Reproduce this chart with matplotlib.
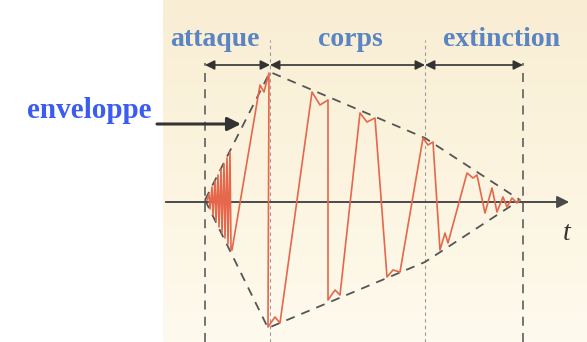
import matplotlib
matplotlib.use('Agg')
import matplotlib.pyplot as plt
import numpy as np
from matplotlib.colors import LinearSegmentedColormap

WAVE = '#e5674c'; DARK = '#4a4a4a'; LBL = '#5b84c2'; BLUE = '#3a5cf0'

# time (t) and amplitude (a), origin = start of the attack
wave_t = [2, 4, 5, 7, 8, 10, 11, 13, 14, 16, 17, 19, 20, 22, 23, 25, 26, 27,
          55, 59, 64, 63, 70, 75, 107, 115, 123, 123, 130, 135, 155, 162, 170,
          182, 188, 195, 218, 223, 228, 235, 240, 243, 262, 268, 272, 280, 287,
          292, 298, 302, 307, 312, 315]
wave_a = [0, 6, -9, 13, -15, 19, -21, 25, -27, 31, -33, 36, -38, 42, -44, 48, -50, -50,
          115, 108, 127, -127, -117, -123, 108, 95, 100, -100, -90, -95, 87, 78, 82,
          -77, -70, -72, 62, 55, 58, -50, -33, -43, 27, 22, 25, -13, 12,
          -12, 3, -7, 2, -3, 0]

env_up_t = [0, 65, 220, 315]
env_up_a = [0, 128, 62, 0]
env_lo_t = [0, 63, 220, 315]
env_lo_a = [0, -128, -62, 0]

phase_bounds = [0, 65, 220, 318]
phase_names = ['attaque', 'corps', 'extinction']
phase_label_t = [10, 145, 296]

fig = plt.figure(figsize=(5.87, 3.42), dpi=100, facecolor='white')
ax = fig.add_axes([0, 0, 1, 1])
ax.set_xlim(-205, 382)
ax.set_ylim(-142, 200)
ax.axis('off')

# scanned page background, light beige fading to paper white at the bottom
paper = LinearSegmentedColormap.from_list('paper', ['#fefaee', '#fcf4df', '#f9eed4'])
ax.imshow(np.linspace(0, 1, 100).reshape(-1, 1), cmap=paper, origin='lower',
          extent=(-42, 382, -142, 200), aspect='auto', zorder=0)
ax.set_xlim(-205, 382)
ax.set_ylim(-142, 200)

# vertical phase markers
ax.vlines([phase_bounds[0], phase_bounds[3]], -142, 137, colors='#6a6a6a',
          linestyles=(0, (5, 4)), lw=1.3, zorder=1)
ax.vlines([phase_bounds[1], phase_bounds[2]], -142, 160, colors='#9a9a9a',
          linestyles=(0, (3, 3)), lw=0.8, zorder=1)

# time axis
ax.annotate('', xy=(367, -2), xytext=(-42, -2),
            arrowprops=dict(arrowstyle='-|>', color=DARK, lw=1.4, mutation_scale=18))
ax.text(362, -33, 't', fontsize=20, fontstyle='italic', family='Liberation Serif',
        color='#333333', ha='center', va='center')

# signal and envelope
ax.plot(wave_t, wave_a, color=WAVE, lw=1.2, zorder=3)
ax.plot(env_up_t, env_up_a, color='#555555', lw=1.3, ls=(0, (5, 4)), zorder=2)
ax.plot(env_lo_t, env_lo_a, color='#555555', lw=1.3, ls=(0, (5, 4)), zorder=2)

# phase arrows and names
for t0, t1 in zip(phase_bounds[:-1], phase_bounds[1:]):
    ax.annotate('', xy=(t1, 135), xytext=(t0, 135),
                arrowprops=dict(arrowstyle='<|-|>', color='#333333', lw=1.2,
                                mutation_scale=14, shrinkA=0, shrinkB=0))
for name, tc in zip(phase_names, phase_label_t):
    ax.text(tc, 160, name, fontsize=20, fontweight='bold', family='Liberation Serif',
            color=LBL, ha='center', va='center')

# envelope label
ax.text(-116, 90, 'enveloppe', fontsize=21, fontweight='bold', family='Liberation Serif',
        color=BLUE, ha='center', va='center')
ax.annotate('', xy=(36, 76), xytext=(-48, 76),
            arrowprops=dict(arrowstyle='-|>', color='#333333', lw=2.2,
                            mutation_scale=20, shrinkA=0, shrinkB=0))

fig.savefig('out.png', dpi=100, facecolor='white')
